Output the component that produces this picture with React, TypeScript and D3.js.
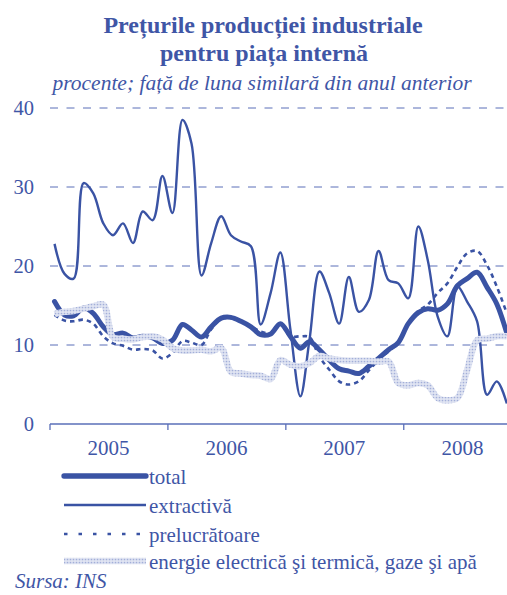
import React from "react";
import * as d3 from "d3";

// monthly, Jan 2005 - Nov 2008
const months = d3.timeMonth.range(new Date(2005, 0, 1), new Date(2008, 11, 1));
const years = [2005, 2006, 2007, 2008];
const yTicks = [0, 10, 20, 30, 40];

const total = [
  15.5, 13.8, 13.7, 14.7, 14.0, 12.3, 11.3, 11.5, 10.9, 11.1, 10.9, 10.2,
  10.6, 12.6, 11.9, 11.0, 12.3, 13.4, 13.5, 13.0, 12.3, 11.3, 11.4, 12.7,
  11.1, 9.6, 10.4, 9.4, 8.1, 7.0, 6.7, 6.4, 7.3, 8.3, 9.4, 10.3,
  12.7, 14.1, 14.6, 14.4, 15.2, 17.5, 18.4, 19.2, 17.3, 15.2, 11.5,
];
const extractiva = [
  22.8, 19.0, 18.4, 30.5, 29.2, 25.4, 23.9, 25.4, 22.9, 26.9, 25.8, 31.4,
  26.7, 38.5, 35.5, 18.8, 22.9, 26.3, 23.9, 23.1, 22.5, 12.6, 16.6, 21.7,
  12.0, 3.5, 10.6, 19.3, 16.6, 12.7, 18.6, 14.2, 15.7, 21.9, 18.2, 17.8,
  15.9, 25.0, 20.8, 13.6, 11.1, 17.4, 15.5, 13.0, 3.7, 5.4, 2.6,
];
const prelucratoare = [
  13.8, 13.1, 13.0, 13.2, 12.7, 11.1, 10.2, 9.9, 9.4, 9.5, 9.3, 8.3,
  9.0, 10.5, 10.3, 10.0, 12.0, 13.3, 13.4, 13.0, 12.4, 11.7, 11.5, 12.6,
  11.1, 11.1, 11.0, 8.5, 6.9, 5.4, 5.0, 5.4, 6.8, 8.1, 9.2, 10.3,
  12.8, 14.3, 15.1, 16.6, 17.8, 19.9, 21.6, 21.9, 20.1, 17.4, 14.0,
];
const energie = [
  13.9, 14.2, 14.3, 14.6, 14.9, 15.1, 11.0, 10.8, 10.7, 11.0, 11.1, 10.7,
  9.6, 9.3, 9.3, 9.4, 9.2, 9.6, 6.6, 6.4, 6.2, 6.1, 5.7, 8.1,
  7.5, 7.3, 7.7, 8.6, 8.3, 8.1, 8.0, 8.0, 8.0, 7.9, 7.9, 5.2,
  4.9, 5.2, 4.9, 3.3, 3.0, 3.3, 6.8, 10.6, 10.8, 11.1, 11.1,
];

const blue = "#3a53a4";
const textBlue = "#3f56a6";
const font = "'Liberation Serif', 'Times New Roman', serif";

const x = d3
  .scaleTime()
  .domain([new Date(2005, 0, 1), new Date(2009, 0, 1)])
  .range([50, 522]);
const y = d3.scaleLinear().domain([0, 40]).range([424, 108]);

const mid = (d: Date) => new Date(d.getFullYear(), d.getMonth(), 15);

const lineGen = d3
  .line<number>()
  .x((_, i) => x(mid(months[i])))
  .y((d) => y(d))
  .curve(d3.curveCatmullRom.alpha(0.5));

const legend = [
  { label: "total", stroke: blue, width: 5.3, dash: undefined as string | undefined, cap: "round" },
  { label: "extractivă", stroke: blue, width: 2.6, dash: undefined, cap: "butt" },
  { label: "prelucrătoare", stroke: blue, width: 2.6, dash: "3.5 11", cap: "butt" },
  { label: "energie electrică şi termică, gaze şi apă", stroke: "url(#dots)", width: 6.5, dash: undefined, cap: "butt" },
];
const legendY = [476, 505, 534, 561];

export default function App() {
  return (
    <svg
      width={507}
      height={595}
      style={{ position: "absolute", left: 0, top: 0, background: "#fff" }}
      fontFamily={font}
    >
      <defs>
        <pattern id="dots" width={3} height={3} patternUnits="userSpaceOnUse">
          <rect width={3} height={3} fill="#e0e4f2" />
          <circle cx={1.5} cy={1.5} r={0.85} fill="#a3afd9" />
        </pattern>
      </defs>

      <text x={263} y={33} textAnchor="middle" fontSize={24} fontWeight="bold" fill={textBlue}>
        Prețurile producției industriale
      </text>
      <text x={264} y={61} textAnchor="middle" fontSize={24} fontWeight="bold" fill={textBlue}>
        pentru piața internă
      </text>
      <text x={262} y={90} textAnchor="middle" fontSize={21.5} fontStyle="italic" fill={textBlue}>
        procente; față de luna similară din anul anterior
      </text>

      {/* grid */}
      {yTicks
        .filter((t) => t > 0)
        .map((t) => (
          <line
            key={t}
            x1={50}
            x2={507}
            y1={y(t)}
            y2={y(t)}
            stroke="#5a6fb8"
            strokeWidth={1}
            strokeDasharray="8 8.5"
          />
        ))}
      {yTicks.map((t) => (
        <text key={t} x={34} y={y(t) + 6.5} textAnchor="end" fontSize={20.5} fill={textBlue}>
          {t}
        </text>
      ))}

      {/* x axis */}
      <line x1={50} x2={507} y1={424} y2={424} stroke="#5a6fb8" strokeWidth={1.5} />
      {years.map((yr) => (
        <g key={yr}>
          <line
            x1={x(new Date(yr, 0, 1))}
            x2={x(new Date(yr, 0, 1))}
            y1={424}
            y2={430}
            stroke="#5a6fb8"
            strokeWidth={1.3}
          />
          <text x={x(new Date(yr, 6, 1))} y={455} textAnchor="middle" fontSize={21} fill={textBlue}>
            {yr}
          </text>
        </g>
      ))}

      {/* series */}
      <path d={lineGen(total) || ""} fill="none" stroke={blue} strokeWidth={5} strokeLinejoin="round" strokeLinecap="round" />
      <path d={lineGen(extractiva) || ""} fill="none" stroke={blue} strokeWidth={2.4} />
      <path d={lineGen(prelucratoare) || ""} fill="none" stroke={blue} strokeWidth={2.6} strokeDasharray="4.5 4" />
      <path d={lineGen(energie) || ""} fill="none" stroke="url(#dots)" strokeWidth={6.5} />

      {/* legend */}
      {legend.map((l, i) => (
        <g key={l.label}>
          <line
            x1={64}
            x2={146}
            y1={legendY[i]}
            y2={legendY[i]}
            stroke={l.stroke}
            strokeWidth={l.width}
            strokeDasharray={l.dash}
            strokeLinecap={l.cap as any}
          />
          <text x={149} y={legendY[i] + 7.5} fontSize={21} fill={textBlue}>
            {l.label}
          </text>
        </g>
      ))}

      <text x={15} y={588} fontSize={21} fontStyle="italic" fill={textBlue}>
        Sursa: INS
      </text>
    </svg>
  );
}
